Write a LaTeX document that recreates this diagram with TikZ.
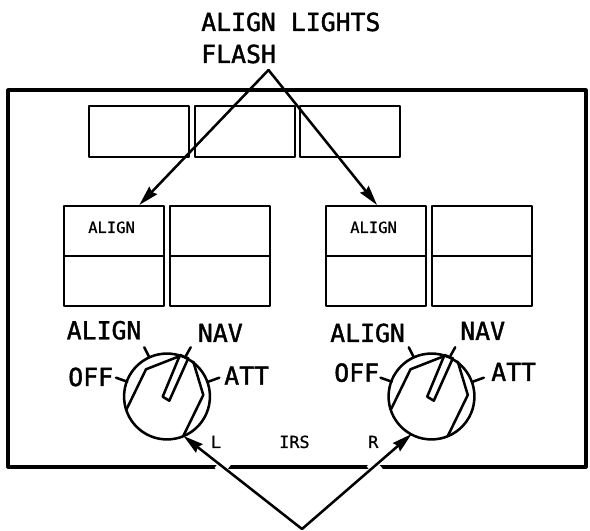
\documentclass[tikz,border=0pt]{standalone}
\usepackage{fontspec}
\newfontfamily\panelfont[FakeBold=1.6]{DejaVu Sans Mono}
\newfontfamily\smallfont[FakeBold=0.8]{DejaVu Sans Mono}
\usetikzlibrary{arrows.meta}
\tikzset{
  lamp/.style={draw,line width=1.5pt,minimum width=75pt,minimum height=38.5pt,inner sep=0pt,outer sep=0pt},
  bigtext/.style={font=\panelfont\fontsize{18.6}{20}\selectfont,inner sep=0pt,anchor=base west},
  smalltext/.style={font=\smallfont\fontsize{12.6}{14}\selectfont,inner sep=0pt,anchor=base west},
  lamptext/.style={font=\smallfont\fontsize{11.6}{14}\selectfont,inner sep=0pt,anchor=base west},
  leader/.style={-{Stealth[length=15pt,width=8pt,inset=1.5pt]},line width=1.9pt},
  halo/.style={white,line width=9pt,line cap=butt}
}
\begin{document}
\begin{tikzpicture}[x=0.75pt,y=-0.75pt,line cap=round,line join=round]
  \useasboundingbox (0,0) rectangle (590,531);

  % frame
  \draw[line width=2.3pt] (8,90) rectangle (586,467);

  % top lamps
  \foreach \nm/\cx in {topa/138.5,topb/244.5,topc/350}
    \node[lamp] (\nm) at (\cx,131.5) {};

  % align lamps
  \foreach \nm/\cx in {la/114,lb/220,ra/376,rb/482}{
    \node[lamp,minimum height=75pt] (\nm) at (\cx,256) {};
    \draw[line width=1.5pt] (\nm.west) -- (\nm.east);
  }
  \node[lamptext] (lalign) at (88,233) {ALIGN};
  \node[lamptext] (ralign) at (350,233) {ALIGN};

  % knobs
  \foreach \nm/\cx in {lknob/167,rknob/431.5}{
    \begin{scope}[shift={(\cx,396.5)},line width=1.9pt]
      \draw (0,0) circle (32.2pt);
      \coordinate (\nm) at (0,0);
      % pointer
      \draw (-4.3,0.2) -- (2.3,4.2) -- (21.3,-38.2) -- (13,-41.5) -- cycle;
      \draw (-40.3,12.5) -- (-21,-27.2) -- (13.7,-40.8);
      \draw (16.3,39.5) -- (36.3,-1.5) -- (26.3,-34.8);
      % ticks
      \draw (19,-40.8) -- (23.7,-49.2);
      \draw (-17.7,-39.2) -- (-22.7,-49.2);
      \draw (-39.7,-14.8) -- (-51,-18.8);
      \draw (41.3,-14.8) -- (52.3,-18.8);
    \end{scope}
  }

  % knob labels
  \node[bigtext] (lalignpos) at (66.5,339.3) {ALIGN};
  \node[bigtext] (lnav) at (197.7,342) {NAV};
  \node[bigtext] (loff) at (68,386) {OFF};
  \node[bigtext] (latt) at (224,384.7) {ATT};
  \node[bigtext] (ralignpos) at (330,342) {ALIGN};
  \node[bigtext] (rnav) at (460,340) {NAV};
  \node[bigtext] (roff) at (334,381.7) {OFF};
  \node[bigtext] (ratt) at (491,381) {ATT};

  \node[smalltext] (lside) at (210.7,448) {L};
  \node[smalltext] (irs) at (279,448) {IRS};
  \node[smalltext] (rside) at (368,448) {R};

  % heading
  \node[bigtext] (lights) at (201,31) {ALIGN LIGHTS};
  \node[bigtext] (flash) at (201,63) {FLASH};

  % leaders
  \coordinate (topv) at (268.5,70);
  \coordinate (botv) at (302,529);
  \coordinate (ltip) at (139.3,205);
  \coordinate (rtip) at (377,205);
  \coordinate (lknobtip) at (183.5,436);
  \coordinate (rknobtip) at (411.7,434);
  \draw[leader] (topv) -- (ltip);
  \draw[leader] (topv) -- (rtip);
  \draw[halo] (218.3,463.2) -- (226.9,470);
  \draw[halo] (370.6,471) -- (378.6,464);
  \draw[leader] (botv) -- (lknobtip);
  \draw[leader] (botv) -- (rknobtip);
\end{tikzpicture}
\end{document}
